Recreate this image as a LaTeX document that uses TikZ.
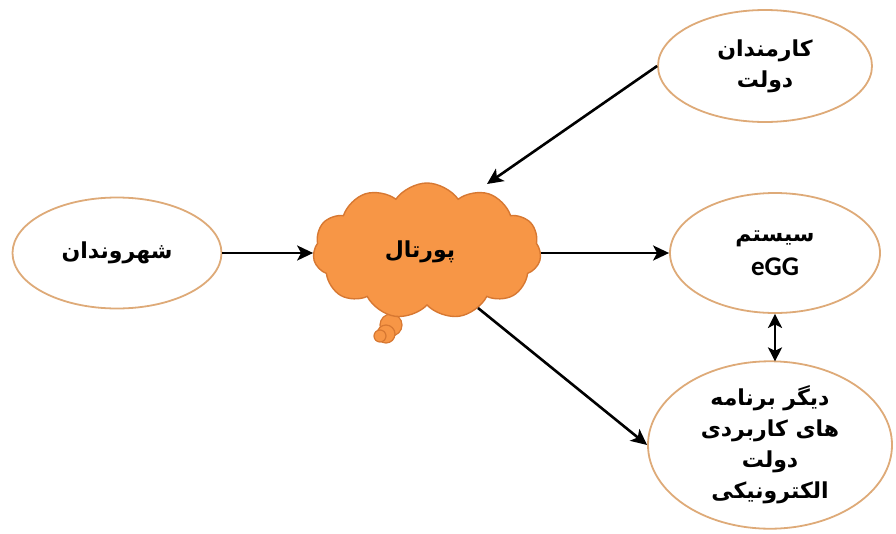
\documentclass[tikz,border=0pt]{standalone}
\usepackage{fontspec}
\usetikzlibrary{shapes.symbols,shapes.geometric,arrows.meta}
\TeXXeTstate=1
\newfontfamily\arabicfont[Script=Arabic]{DejaVu Sans}
\newfontfamily\latinfont{Carlito}
\definecolor{cloudfill}{RGB}{247,150,70}
\definecolor{clouddraw}{RGB}{215,120,50}
\definecolor{ellborder}{RGB}{222,170,120}
\tikzset{
  oval/.style={ellipse, draw=ellborder, line width=1.8pt, fill=white, align=center, inner sep=0pt},
  arr/.style={line width=2.6pt, -{Stealth[length=16pt,width=15pt,inset=4pt]}},
  darr/.style={line width=2.6pt, {Stealth[length=14pt,width=14pt,inset=3.5pt]}-{Stealth[length=14pt,width=14pt,inset=3.5pt]}},
  lab/.style={font=\arabicfont\bfseries\fontsize{22}{31}\selectfont},
  puff/.style={fill=cloudfill, draw=clouddraw, line width=1.2pt}
}
\begin{document}
\begin{tikzpicture}[x=1pt,y=-1pt]
\useasboundingbox (0,0) rectangle (896,533);
\node[oval, minimum width=209pt, minimum height=111pt, lab] (cit) at (117,253) {\beginR شهروندان\endR};
\node[oval, minimum width=214pt, minimum height=112pt, lab] (gov) at (765,66) {\beginR کارمندان\endR\\\beginR دولت\endR};
\node[oval, minimum width=210pt, minimum height=120pt, lab] (egg) at (775,253) {\beginR سیستم\endR\\[3pt]{\latinfont\bfseries\fontsize{27}{31}\selectfont eGG}};
\node[oval, minimum width=244pt, minimum height=160pt, lab] (apps) at (770,445) {\beginR دیگر برنامه\endR\\\beginR های کاربردی\endR\\\beginR دولت\endR\\\beginR الکترونیکی\endR};
% thought bubble tail
\filldraw[puff] (391,325) circle (11pt);
\filldraw[puff] (386,334) circle (9pt);
\filldraw[puff] (380,336) circle (6pt);
\node[cloud, cloud puffs=11, cloud puff arc=110, aspect=1.7, fill=cloudfill, draw=clouddraw, line width=1.4pt, minimum width=228pt, minimum height=136pt, inner sep=0pt] (portal) at (427,251) {};
\node[lab] (plab) at (420,252) {\beginR پورتال\endR};
\coordinate (pin) at (487,184);
\coordinate (pout) at (478,308);
\draw[arr] (cit.east) -- (cit.east -| portal.west);
\draw[arr] (egg.west -| portal.east) -- (egg.west);
\draw[arr] (gov.west) -- (pin);
\draw[arr] (pout) -- (apps.west);
\draw[darr] (egg.south) -- ([yshift=-1pt]apps.north -| egg.south);
\end{tikzpicture}
\end{document}
